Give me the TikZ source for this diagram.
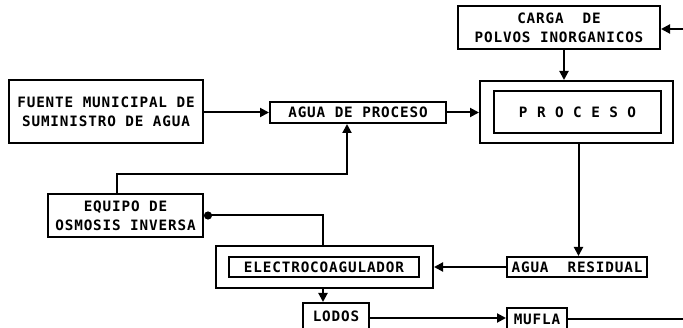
\documentclass[tikz,border=0pt]{standalone}
\usepackage{fontspec}
\newfontfamily\plotfont{DejaVu Sans Mono Bold}[LetterSpace=6]
\usetikzlibrary{arrows.meta,calc}
\begin{document}
\begin{tikzpicture}[x=1pt,y=-1pt,
  box/.style={draw,line width=2pt,rectangle,inner sep=0pt,align=center,
    font=\plotfont\fontsize{14.3}{19}\selectfont},
  frame/.style={draw,line width=2pt,rectangle,inner sep=0pt},
  flow/.style={line width=2pt,-{Triangle[length=9pt,width=9pt]}},
  dotflow/.style={line width=2pt,-{Circle[length=8pt]}},
  plain/.style={line width=2pt}]
\useasboundingbox (0,0) rectangle (683,328);
% nodes
\node[box,minimum width=194pt,minimum height=63pt] (fuente) at (106,111.5)
  {FUENTE MUNICIPAL DE\\SUMINISTRO DE AGUA};
\node[box,minimum width=176pt,minimum height=21pt] (agua) at (358,112.5) {AGUA DE PROCESO};
\node[frame,minimum width=193pt,minimum height=62pt] (proc) at (576.5,112) {};
\node[box,minimum width=167pt,minimum height=42pt] (procin) at (577.5,112) {P R O C E S O};
\node[box,minimum width=202pt,minimum height=43pt] (carga) at (559,27.5)
  {CARGA\ \ DE\\POLVOS INORGANICOS};
\node[box,minimum width=140pt,minimum height=20pt] (resid) at (577,267) {AGUA\ \ RESIDUAL};
\node[frame,minimum width=217pt,minimum height=42pt] (electro) at (324.5,267) {};
\node[box,minimum width=190pt,minimum height=20pt] (electroin) at (324,267) {ELECTROCOAGULADOR};
\node[box,minimum width=155pt,minimum height=43pt] (equipo) at (125.5,215.5)
  {EQUIPO DE\\OSMOSIS INVERSA};
\node[box,minimum width=66pt,minimum height=30pt,text depth=0pt] (lodos) at (336,318) {\raisebox{3pt}{LODOS}};
\node[box,minimum width=60pt,minimum height=24pt] (mufla) at (537,320) {\raisebox{1pt}{MUFLA}};
% auxiliary coordinates
\coordinate (inR) at (683,29);
\coordinate (outR) at (683,319);
\coordinate (turn) at (347,174);
% connectors
\draw[flow] (fuente.east |- agua.west) -- (agua.west);
\draw[flow] (agua.east) -- (agua.east -| proc.west);
\draw[flow] ([xshift=5pt]carga.south) -- ([xshift=5pt]carga.south |- proc.north);
\draw[flow] (inR) -- (inR -| carga.east);
\draw[flow] ([xshift=2pt]proc.south) -- ([xshift=2pt]proc.south |- resid.north);
\draw[flow] (resid.west) -- (resid.west -| electro.east);
\draw[dotflow] ([xshift=-1.5pt]electro.north) |- (equipo.east);
\draw[flow] ([xshift=-8.5pt]equipo.north) |- (turn) -- (turn |- agua.south);
\draw[flow] ([xshift=-1.5pt]electro.south) -- ([xshift=-1.5pt]electro.south |- lodos.north);
\draw[flow] (lodos.east) -- (lodos.east -| mufla.west);
\draw[plain] (mufla.east |- outR) -- (outR);
\end{tikzpicture}
\end{document}
